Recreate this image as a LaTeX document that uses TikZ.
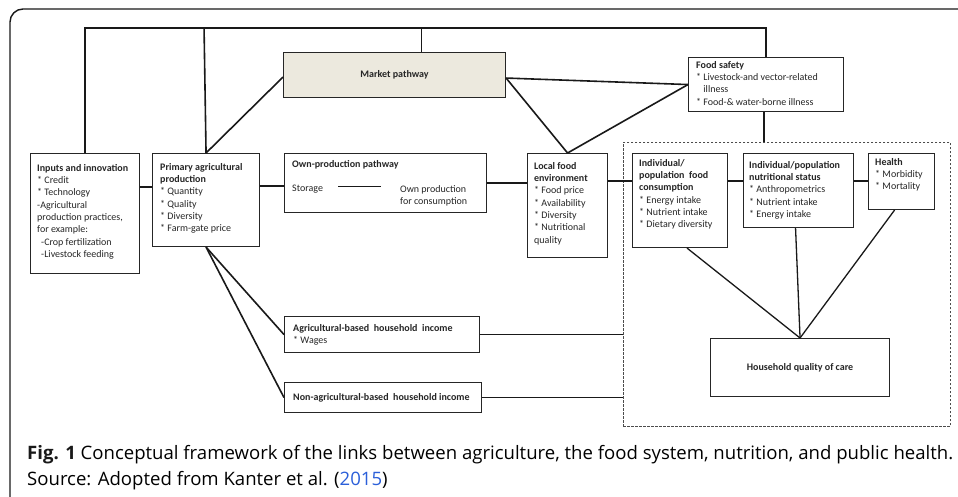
\documentclass[tikz,border=0pt]{standalone}
\usepackage{fontspec}
\setmainfont{Carlito}
\newfontfamily\capfont{Open Sans}
\usetikzlibrary{calc}
\definecolor{mktfill}{HTML}{ECE9DE}
\definecolor{linkblue}{HTML}{2B5FD9}
\definecolor{captxt}{HTML}{303030}
\newsavebox\capboxA
\newsavebox\capboxB
\begin{document}
\sbox\capboxA{\capfont\fontsize{18.5}{26}\selectfont\textcolor{black!90}{\textbf{Fig. 1}} Conceptual framework of the links between agriculture, the food system, nutrition, and public health.}%
\sbox\capboxB{\capfont\fontsize{18.5}{26}\selectfont Source: Adopted from Kanter et al. (\textcolor{linkblue}{2015})}%
\pgfmathsetmacro\capfac{926/\wd\capboxA}%
\begin{tikzpicture}[x=1pt,y=-1pt,
  box/.style={draw=black!85, line width=1.1pt, inner sep=0pt, anchor=north west},
  txt/.style={anchor=north west, inner sep=0pt, align=left, font=\fontsize{10}{12.3}\selectfont, text=black!85},
  ctxt/.style={inner sep=0pt, font=\fontsize{10}{12.3}\selectfont\bfseries, text=black!85},
  link/.style={line width=1.6pt, draw=black!90},
  frame/.style={line width=1.4pt, draw=black!90, rounded corners=13pt},
  dbox/.style={draw=black!70, line width=0.9pt, dash pattern=on 2.5pt off 1.5pt, inner sep=0pt, anchor=north west},
]
\useasboundingbox (0,0) rectangle (958,496);
\fill[white] (0,0) rectangle (958,496);
% outer frame
\draw[frame] (10,497) -- (10,9) -- (959,9);

% dashed region
\node[dbox, minimum width=327pt, minimum height=284pt] (dash) at (623,142) {};

% boxes
\node[box, fill=mktfill, minimum width=222pt, minimum height=45pt] (mkt) at (283,52) {};
\node[box, minimum width=155pt, minimum height=54pt] (fs) at (688,57) {};
\node[box, minimum width=109pt, minimum height=120pt] (inp) at (30,153) {};
\node[box, minimum width=107pt, minimum height=93pt] (pri) at (152,153) {};
\node[box, minimum width=202pt, minimum height=59pt] (own) at (284,153) {};
\node[box, minimum width=80pt, minimum height=104pt] (loc) at (527,153) {};
\node[box, minimum width=95pt, minimum height=94pt] (ind) at (632,153) {};
\node[box, minimum width=110pt, minimum height=74pt] (nut) at (743,153) {};
\node[box, minimum width=66pt, minimum height=56pt] (hlt) at (868,153) {};
\node[box, minimum width=195pt, minimum height=36pt] (agr) at (284,316) {};
\node[box, minimum width=197pt, minimum height=30pt] (non) at (284,382) {};
\node[box, minimum width=179pt, minimum height=58pt] (hqc) at (710,338) {};

% texts
\node[ctxt] (mktT) at (mkt.center) {Market pathway};
\node[ctxt] (hqcT) at (hqc.center) {Household quality of care};
\node[txt] (fsT) at ([shift={(8,4)}]fs.north west) {\textbf{Food safety}\\* Livestock-and vector-related\\\hphantom{* }illness\\* Food-\& water-borne illness};
\node[txt] (inpT) at ([shift={(7,11)}]inp.north west) {\textbf{Inputs and innovation}\\* Credit\\* Technology\\-Agricultural\\production practices,\\for example:\\\hspace*{4pt}-Crop fertilization\\\hspace*{4pt}-Livestock feeding};
\node[txt] (priT) at ([shift={(8,10)}]pri.north west) {\textbf{Primary agricultural}\\\textbf{production}\\* Quantity\\* Quality\\* Diversity\\* Farm-gate price};
\node[txt] (ownT) at ([shift={(8,7)}]own.north west) {\textbf{Own-production pathway}};
\node[txt] (stor) at ([shift={(8,32)}]own.north west) {Storage};
\node[txt] (ownc) at ([shift={(116,32)}]own.north west) {Own production\\for consumption};
\node[txt] (locT) at ([shift={(7,9)}]loc.north west) {\textbf{Local food}\\\textbf{environment}\\* Food price\\* Availability\\* Diversity\\* Nutritional\\quality};
\node[txt] (indT) at ([shift={(7,6)}]ind.north west) {\textbf{Individual/}\\\textbf{population\ \ food}\\\textbf{consumption}\\* Energy intake\\* Nutrient intake\\* Dietary diversity};
\node[txt] (nutT) at ([shift={(6,8)}]nut.north west) {\textbf{Individual/population}\\\textbf{nutritional status}\\* Anthropometrics\\* Nutrient intake\\* Energy intake};
\node[txt] (hltT) at ([shift={(7,5)}]hlt.north west) {\textbf{Health}\\* Morbidity\\* Mortality};
\node[txt] (agrT) at ([shift={(9,8)}]agr.north west) {\textbf{Agricultural-based\ \ household\ \ income}\\* Wages};
\node[txt] (nonT) at ([shift={(9,11)}]non.north west) {\textbf{Non-agricultural-based\ \ household income}};

% connectors
\coordinate (bus) at (0,28);
\draw[link] (inp.north) |- (fs.north |- bus) -- (fs.north);
\draw[link] ([xshift=-2pt]pri.north |- bus) -- (pri.north);
\draw[link] ([xshift=27pt]mkt.north |- bus) -- ([xshift=27pt]mkt.north);
\draw[link] ([yshift=-2pt]mkt.west) -- (pri.north);
\draw[link] ([yshift=-3pt]mkt.east) -- (fs.west);
\draw[link] ([yshift=-3pt]mkt.east) -- (loc.north);
\draw[link] (loc.north) -- (fs.west);
\draw[link] ([xshift=-2pt]fs.south) -- ([xshift=-2pt]fs.south |- dash.north);
\draw[link] ([yshift=-34pt]inp.north east) -- ([yshift=-34pt]pri.north west);
\draw[link] ([yshift=-33pt]pri.north east) -- ([yshift=-33pt]own.north west);
\draw[link] ([yshift=-30pt]own.north east) -- ([yshift=-30pt]loc.north west);
\draw[link] ([yshift=-28pt]loc.north east) -- ([yshift=-28pt]ind.north west);
\draw[link] ([yshift=-28pt]ind.north east) -- ([yshift=-28pt]nut.north west);
\draw[link] ([yshift=-28pt]nut.north east) -- ([yshift=-28pt]hlt.north west);
\draw[link] ([shift={(46,-3)}]stor.west) -- ([shift={(-19,-3)}]ownc.north west |- stor.west);
\draw[link] (pri.south) -- (agr.west);
\draw[link] (pri.south) -- (non.west);
\draw[link] (agr.east) -- (dash.west |- agr.east);
\draw[link] (non.east) -- (dash.west |- non.east);
\draw[link, line width=1.3pt] ([xshift=7pt]ind.south) -- (hqc.north);
\draw[link, line width=1.3pt] ([xshift=-3pt]nut.south) -- (hqc.north);
\draw[link, line width=1.3pt] ([xshift=-7pt]hlt.south) -- (hqc.north);

% caption
\node[anchor=base west, inner sep=0pt, text=captxt] (cap1) at (27,459.3) {\scalebox{\capfac}[1]{\usebox\capboxA}};
\node[anchor=base west, inner sep=0pt, text=captxt] (cap2) at (27,485.7) {\scalebox{\capfac}[1]{\usebox\capboxB}};
\end{tikzpicture}
\end{document}
